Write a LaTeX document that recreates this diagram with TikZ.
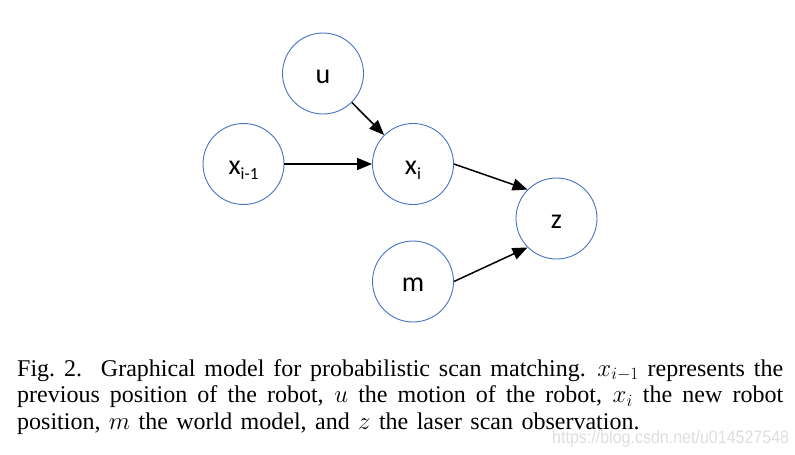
\documentclass[tikz,border=0pt]{standalone}
\usepackage{fontspec}
\usetikzlibrary{arrows.meta}
\setmainfont[WordSpace=1.4]{Liberation Serif}
\newfontfamily\nodefont{Carlito}
\newfontfamily\wmfont{Liberation Sans}
\definecolor{nodeblue}{RGB}{68,114,196}
\definecolor{wmgray}{RGB}{222,222,222}
\tikzset{
  var/.style={circle, draw=nodeblue, line width=0.9pt, minimum size=81pt, inner sep=0pt,
    font=\nodefont\fontsize{28}{30}\selectfont, text height=22pt, text depth=2pt},
  arr/.style={line width=1.5pt, -{Triangle[length=15pt,width=12pt]}},
  captionstyle/.style={anchor=north west, inner sep=0pt, text width=766pt, align=justify,
    font=\fontsize{24}{26.7}\selectfont}
}
\newcommand{\lowsub}[1]{\raisebox{-5pt}{\fontsize{17}{17}\selectfont #1}}
\begin{document}
\begin{tikzpicture}[x=1pt,y=-1pt]
\useasboundingbox (0,0) rectangle (795,455);
\node[var] (u)   at (323,73.5) {u};
\node[var] (xim) at (243.5,164) {x\lowsub{i-1}};
\node[var] (xi)  at (413,164) {x\lowsub{i}};
\node[var] (z)   at (556.5,218.5) {z};
\node[var] (m)   at (413,281.5) {m};
\draw[arr] (u) -- (xi);
\draw[arr] (xim) -- (xi);
\draw[arr] (xi.east) -- (z.135);
\draw[arr] (m.east) -- (z.225);
\node[anchor=base west, inner sep=0pt, text=wmgray] (wm) at (552,443)
  {\scalebox{0.89}[1]{\wmfont\fontsize{18}{18}\selectfont https://blog.csdn.net/u014527548}};
\node[captionstyle] (cap) at (17,357.3) {\strut Fig.~2.\hspace{0.3em} Graphical model for probabilistic scan matching. $x_{i-1}$ represents the\linebreak previous position of the robot, $u$ the motion of the robot, $x_i$ the new robot\linebreak position, $m$ the world model, and $z$ the laser scan observation.};
\end{tikzpicture}
\end{document}
